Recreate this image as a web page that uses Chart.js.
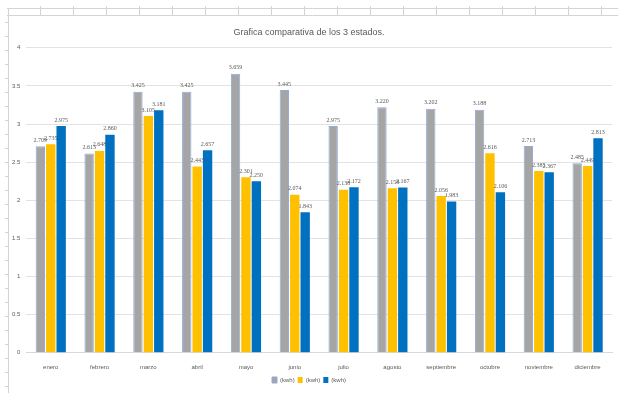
<!DOCTYPE html>
<html>
<head>
<meta charset="utf-8">
<script src="https://cdn.jsdelivr.net/npm/chart.js@4"></script>
<style>
  html, body { margin: 0; padding: 0; background: #fff; }
  #wrap { width: 618px; height: 393px; position: relative; }
</style>
</head>
<body>
<div id="wrap"><canvas id="myChart" width="618" height="393"></canvas></div>
<script>
// months
const meses = ['enero', 'febrero', 'marzo', 'abril', 'mayo', 'junio', 'julio', 'agosto', 'septiembre', 'octubre', 'noviembre', 'diciembre'];

// the 3 series (kwh)
const serieGris = [2.709, 2.613, 3.425, 3.425, 3.659, 3.445, 2.975, 3.220, 3.202, 3.188, 2.713, 2.485];
const serieAmarilla = [2.735, 2.648, 3.105, 2.443, 2.301, 2.074, 2.138, 2.158, 2.056, 2.616, 2.385, 2.449];
const serieAzul = [2.975, 2.860, 3.181, 2.657, 2.250, 1.843, 2.172, 2.167, 1.983, 2.106, 2.367, 2.813];

const nombres = ['(kwh)', '(kwh)', '(kwh)'];
const yTicks = [0, 0.5, 1, 1.5, 2, 2.5, 3, 3.5, 4];

const fuente = '"Liberation Sans Narrow", "Liberation Sans", sans-serif';

// sheet lines behind the chart (excel look)
const hojaPlugin = {
  id: 'hoja',
  beforeDraw(chart) {
    const ctx = chart.ctx;
    ctx.save();
    ctx.strokeStyle = '#d4d4d4';
    ctx.lineWidth = 1;
    ctx.beginPath();
    ctx.moveTo(7, 8.5); ctx.lineTo(618, 8.5);
    ctx.moveTo(7, 15.5); ctx.lineTo(618, 15.5);
    ctx.moveTo(8.5, 8); ctx.lineTo(8.5, 393);
    for (let x = 40; x < 618; x += 33) {
      ctx.moveTo(x + 0.5, 6); ctx.lineTo(x + 0.5, 15);
    }
    for (let y = 22; y < 393; y += 14) {
      ctx.moveTo(5, y + 0.5); ctx.lineTo(8, y + 0.5);
    }
    ctx.stroke();
    ctx.restore();
  }
};

// value labels on top of bars
const etiquetas = {
  id: 'etiquetas',
  afterDatasetsDraw(chart) {
    const ctx = chart.ctx;
    ctx.save();
    ctx.font = '6px "Liberation Serif", serif';
    ctx.fillStyle = '#595959';
    ctx.textAlign = 'center';
    ctx.textBaseline = 'bottom';
    chart.data.datasets.forEach((ds, i) => {
      chart.getDatasetMeta(i).data.forEach((bar, j) => {
        ctx.fillText(ds.data[j].toFixed(3), bar.x, bar.y - 3);
      });
    });
    ctx.restore();
  }
};

const ctx = document.getElementById('myChart').getContext('2d');
new Chart(ctx, {
  type: 'bar',
  data: {
    labels: meses,
    datasets: [
      { label: nombres[0], data: serieGris, backgroundColor: '#a5a5a5', borderColor: '#8faadc', borderWidth: 1 },
      { label: nombres[1], data: serieAmarilla, backgroundColor: '#ffc000', borderWidth: 0 },
      { label: nombres[2], data: serieAzul, backgroundColor: '#0070c0', borderWidth: 0 }
    ]
  },
  options: {
    responsive: false,
    animation: false,
    categoryPercentage: 0.64,
    barPercentage: 0.9,
    layout: { padding: { top: 17, left: 6, right: 6, bottom: 0 } },
    plugins: {
      title: {
        display: true,
        text: 'Grafica comparativa de los 3 estados.',
        color: '#595959',
        font: { family: fuente, size: 9, weight: 'normal' },
        padding: { top: 10, bottom: 10 }
      },
      legend: {
        position: 'bottom',
        labels: {
          boxWidth: 5, boxHeight: 6, padding: 3,
          color: '#595959',
          font: { family: fuente, size: 6 }
        }
      },
      tooltip: { enabled: false }
    },
    scales: {
      x: {
        grid: { display: false },
        border: { color: '#d9d9d9' },
        ticks: { color: '#595959', padding: 3, font: { family: fuente, size: 6 } }
      },
      y: {
        min: 0, max: 4,
        afterBuildTicks: axis => { axis.ticks = yTicks.map(v => ({ value: v })); },
        grid: { color: '#e3e3e3', drawTicks: false },
        border: { display: false },
        ticks: {
          color: '#595959', padding: 6,
          font: { family: fuente, size: 6 },
          callback: v => String(v)
        }
      }
    }
  },
  plugins: [hojaPlugin, etiquetas]
});
</script>
</body>
</html>
